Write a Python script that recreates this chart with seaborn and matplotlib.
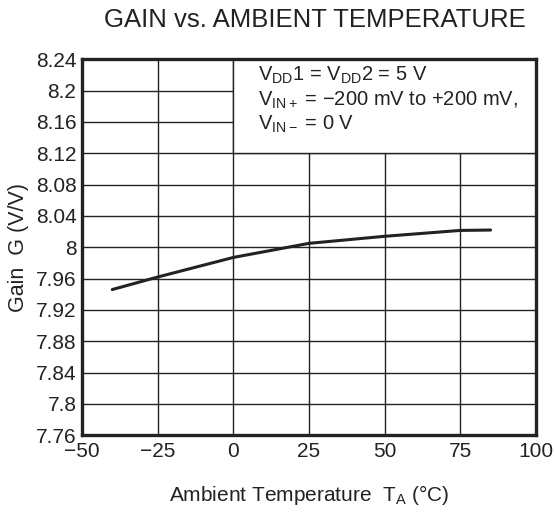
import matplotlib
matplotlib.use("Agg")
import matplotlib.pyplot as plt
import seaborn as sns
import pandas as pd
from matplotlib.patches import Rectangle

temps = [-40, -25, 0, 25, 50, 75, 85]
gain = [7.946, 7.962, 7.987, 8.005, 8.014, 8.0215, 8.022]
xticks = [-50, -25, 0, 25, 50, 75, 100]
xticklabels = ["\u221250", "\u221225", "0", "25", "50", "75", "100"]
yticks = [7.76, 7.8, 7.84, 7.88, 7.92, 7.96, 8.0, 8.04, 8.08, 8.12, 8.16, 8.2, 8.24]
yticklabels = ["7.76", "7.8", "7.84", "7.88", "7.92", "7.96", "8", "8.04", "8.08", "8.12", "8.16", "8.2", "8.24"]

sns.set_style("white")
plt.rcParams['font.family'] = ['Liberation Sans', 'DejaVu Sans']
plt.rcParams['mathtext.fontset'] = 'custom'
plt.rcParams['mathtext.rm'] = 'Liberation Sans'
plt.rcParams['mathtext.it'] = 'Liberation Sans'
plt.rcParams['mathtext.default'] = 'rm'

df = pd.DataFrame({"T": temps, "G": gain})
fig = plt.figure(figsize=(5.55, 5.13), dpi=100)
ax = fig.add_axes([0.1477, 0.1515, 0.818, 0.733])
sns.lineplot(data=df, x="T", y="G", ax=ax, color="#222222", linewidth=2.2, zorder=5)
ax.set_xlim(-50, 100)
ax.set_ylim(7.76, 8.24)
ax.set_xticks(xticks)
ax.set_xticklabels(xticklabels)
ax.set_yticks(yticks)
ax.set_yticklabels(yticklabels)
ax.grid(True, color="#222222", linewidth=1.0)
ax.set_axisbelow(True)
ax.tick_params(axis='both', length=0, labelsize=15, colors="#222222")
ax.tick_params(axis='x', pad=5)
ax.tick_params(axis='y', pad=4)
for s in ax.spines.values():
    s.set_linewidth(2.4)
    s.set_color("#222222")
    s.set_zorder(6)
ax.add_patch(Rectangle((0, 8.12), 100, 0.12, facecolor="white", edgecolor="#222222",
                       linewidth=1.0, zorder=3))
txt = ("V$_{\\mathrm{DD}}$1 = V$_{\\mathrm{DD}}$2 = 5 V\n"
       "V$_{\\mathrm{IN+}}$ = \u2212200 mV to +200 mV,\n"
       "V$_{\\mathrm{IN\u2212}}$ = 0 V")
ax.text(8.3, 8.233, txt, fontsize=14.5, va="top", ha="left", color="#222222",
        linespacing=1.2, zorder=4)
ax.set_xlabel("Ambient Temperature  T$_{\\mathrm{A}}$ (\u00b0C)", fontsize=15, color="#222222", labelpad=16)
ax.set_ylabel("Gain  G (V/V)", fontsize=15.5, color="#222222", labelpad=5)
fig.text(0.568, 0.961, "GAIN vs. AMBIENT TEMPERATURE", ha="center", va="center",
         fontsize=18.5, color="#222222")
fig.savefig("out.png", dpi=100)
